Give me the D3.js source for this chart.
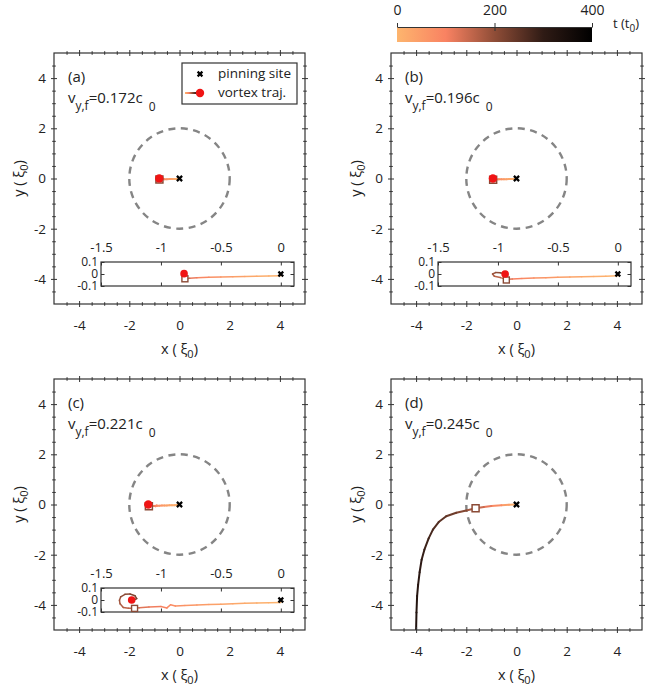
<!DOCTYPE html>
<html>
<head>
<meta charset="utf-8">
<script src="https://cdn.jsdelivr.net/npm/d3@7"></script>
<style>
body { margin: 0; background: #fff; }
text { font-family: "Open Sans", sans-serif; fill: #222; }
</style>
</head>
<body>
<script>
// ---- data ----
var panelNames = ["(a)", "(b)", "(c)", "(d)"];
var vyf = ["0.172", "0.196", "0.221", "0.245"];
var majorTicks = [-4, -2, 0, 2, 4];
var insetTicksX = [-1.5, -1, -0.5, 0];
var insetTicksY = [0.1, 0, -0.1];
var cbarTicks = [0, 200, 400];
var cmapStops = [0, 100, 200, 300, 400];
var cmapColors = ["#fdb56e", "#f98262", "#8f4d37", "#2f1b15", "#000000"];
var pinX = 0, pinY = 0, circleR = 2;

// trajectories (x, y in xi_0, t in t_0)
var trajAX = [0, -0.1, -0.2, -0.3, -0.4, -0.5, -0.6, -0.7, -0.76, -0.8, -0.805, -0.807];
var trajAY = [-0.015, -0.017, -0.019, -0.021, -0.023, -0.025, -0.028, -0.032, -0.036, -0.04, -0.02, 0.003];
var trajAT = [0, 10, 20, 32, 45, 60, 78, 100, 125, 160, 190, 210];

var trajBX = [0, -0.1, -0.2, -0.3, -0.4, -0.5, -0.6, -0.7, -0.8, -0.88, -0.93, -0.98, -1.03, -1.045, -1.02, -0.98, -0.94];
var trajBY = [-0.015, -0.018, -0.02, -0.022, -0.025, -0.028, -0.031, -0.034, -0.038, -0.042, -0.045, -0.03, -0.018, 0.0, 0.012, 0.01, 0.0];
var trajBT = [0, 8, 16, 25, 35, 46, 58, 72, 90, 110, 135, 150, 165, 180, 195, 205, 215];

var trajCX = [0, -0.1, -0.2, -0.3, -0.4, -0.5, -0.6, -0.7, -0.8, -0.88, -0.92, -0.95, -1.0, -1.1, -1.18, -1.22,
              -1.27, -1.314, -1.341, -1.346, -1.336, -1.30, -1.258, -1.216, -1.202, -1.225, -1.244];
var trajCY = [-0.02, -0.022, -0.025, -0.028, -0.031, -0.035, -0.038, -0.041, -0.045, -0.05, -0.04, -0.066, -0.055, -0.058, -0.064, -0.068,
              -0.068, -0.062, -0.032, -0.003, 0.026, 0.047, 0.05, 0.035, 0.012, 0.0, 0.0];
var trajCT = [0, 7, 14, 21, 28, 36, 44, 53, 63, 73, 80, 88, 100, 115, 130, 145,
              155, 165, 175, 185, 195, 205, 212, 218, 224, 230, 235];

var trajDX = [0, -0.3, -0.6, -1.0, -1.3, -1.63, -2.0, -2.4, -2.8, -3.1, -3.33, -3.5, -3.67, -3.78, -3.86, -3.92, -3.96, -3.985, -4.0];
var trajDY = [0, -0.01, -0.03, -0.06, -0.1, -0.15, -0.24, -0.33, -0.47, -0.7, -1.0, -1.35, -1.8, -2.2, -2.7, -3.2, -3.65, -4.3, -5.0];
var trajDT = [0, 30, 60, 100, 130, 160, 200, 225, 245, 260, 270, 280, 290, 298, 306, 314, 320, 326, 332];

var squareX = [-0.80, -0.93, -1.22, -1.63];
var squareY = [-0.04, -0.05, -0.07, -0.15];
var dotX = [-0.807, -0.94, -1.244];
var dotY = [0.003, 0.0, 0.0];

var trajX = [trajAX, trajBX, trajCX, trajDX];
var trajY = [trajAY, trajBY, trajCY, trajDY];
var trajT = [trajAT, trajBT, trajCT, trajDT];

// ---- layout ----
var size = 251;
var panelPos = [[54, 53], [391, 53], [54, 379], [391, 379]];
var axisColor = "#333";

var svg = d3.select("body").append("svg")
    .attr("width", 664)
    .attr("height", 692);

var cmap = d3.scaleLinear().domain(cmapStops).range(cmapColors).interpolate(d3.interpolateRgb);

var minorTicks = d3.range(-4.5, 4.6, 0.5).filter(function(d) { return majorTicks.indexOf(d) < 0; });

function pinMarker(g, cx, cy, s) {
    g.append("path")
        .attr("d", "M" + (cx - s) + "," + (cy - s) + "L" + (cx + s) + "," + (cy + s) +
                   "M" + (cx - s) + "," + (cy + s) + "L" + (cx + s) + "," + (cy - s))
        .attr("stroke", "#000")
        .attr("stroke-width", 2.2)
        .attr("fill", "none");
}

// ticks that cross the axis line
function crossAxis(g, axis, orient, values, len, pad, labels, tx, ty) {
    var a = g.append("g")
        .attr("transform", "translate(" + tx + "," + ty + ")")
        .call(axis.tickValues(values).tickSizeInner(len).tickSizeOuter(0).tickPadding(pad)
            .tickFormat(labels ? function(d) { return String(d); } : ""));
    a.select(".domain").remove();
    var attr = (orient === "bottom" || orient === "top") ? "y1" : "x1";
    var sign = (orient === "bottom" || orient === "right") ? -1 : 1;
    a.selectAll(".tick line").attr(attr, sign * len).attr("stroke", axisColor).attr("stroke-width", 1);
    a.selectAll("text").attr("font-size", 13.5).attr("font-family", "Open Sans, sans-serif").attr("fill", "#222");
    return a;
}

function drawTraj(g, xs, ys, k, width) {
    var xv = trajX[k], yv = trajY[k], tv = trajT[k];
    for (var i = 0; i < xv.length - 1; i++) {
        g.append("line")
            .attr("x1", xs(xv[i])).attr("y1", ys(yv[i]))
            .attr("x2", xs(xv[i + 1])).attr("y2", ys(yv[i + 1]))
            .attr("stroke", cmap((tv[i] + tv[i + 1]) / 2))
            .attr("stroke-width", width)
            .attr("stroke-linecap", "round");
    }
}

function drawPanel(k) {
    var left = panelPos[k][0], top = panelPos[k][1];
    var g = svg.append("g").attr("transform", "translate(" + left + "," + top + ")");
    var x = d3.scaleLinear().domain([-5, 5]).range([0, size]);
    var y = d3.scaleLinear().domain([-5, 5]).range([size, 0]);

    g.append("clipPath").attr("id", "clip" + k)
        .append("rect").attr("width", size).attr("height", size);
    var plot = g.append("g").attr("clip-path", "url(#clip" + k + ")");

    // axes
    crossAxis(g, d3.axisBottom(x), "bottom", minorTicks, 1.8, 0, false, 0, size);
    crossAxis(g, d3.axisBottom(x), "bottom", majorTicks, 3, 13, true, 0, size);
    crossAxis(g, d3.axisTop(x), "top", minorTicks, 1.8, 0, false, 0, 0);
    crossAxis(g, d3.axisTop(x), "top", majorTicks, 3, 0, false, 0, 0);
    crossAxis(g, d3.axisLeft(y), "left", minorTicks, 1.8, 0, false, 0, 0);
    crossAxis(g, d3.axisLeft(y), "left", majorTicks, 3, 5, true, 0, 0);
    crossAxis(g, d3.axisRight(y), "right", minorTicks, 1.8, 0, false, size, 0);
    crossAxis(g, d3.axisRight(y), "right", majorTicks, 3, 0, false, size, 0);
    g.append("rect").attr("width", size).attr("height", size)
        .attr("fill", "none").attr("stroke", axisColor).attr("stroke-width", 1.2);

    // axis titles
    var xt = g.append("text").attr("x", size / 2).attr("y", size + 50)
        .attr("text-anchor", "middle").attr("font-size", 14.5);
    xt.append("tspan").text("x ( \u03be");
    xt.append("tspan").attr("font-size", 11).attr("dy", 4).text("0");
    xt.append("tspan").attr("dy", -4).text(")");
    var yt = g.append("text").attr("transform", "translate(-30," + (size / 2) + ") rotate(-90)")
        .attr("text-anchor", "middle").attr("font-size", 14.5);
    yt.append("tspan").text("y ( \u03be");
    yt.append("tspan").attr("font-size", 11).attr("dy", 4).text("0");
    yt.append("tspan").attr("dy", -4).text(")");

    // panel label and velocity
    g.append("text").attr("x", 14).attr("y", 29).attr("font-size", 15).text(panelNames[k]);
    var vt = g.append("text").attr("x", 14).attr("y", 50).attr("font-size", 15);
    vt.append("tspan").text("v");
    vt.append("tspan").attr("font-size", 12).attr("dy", 7).text("y,f");
    vt.append("tspan").attr("dy", -7).text("=" + vyf[k] + "c");
    vt.append("tspan").attr("font-size", 12).attr("dy", 8).attr("dx", 6).text("0");

    // circle
    plot.append("circle").attr("cx", x(pinX)).attr("cy", y(pinY))
        .attr("r", x(circleR) - x(0))
        .attr("fill", "none").attr("stroke", "#858585")
        .attr("stroke-width", 2.4).attr("stroke-dasharray", "7,5.5");

    drawTraj(plot, x, y, k, 2);
    plot.append("rect")
        .attr("x", x(squareX[k]) - 3.5).attr("y", y(squareY[k]) - 3.5)
        .attr("width", 7).attr("height", 7)
        .attr("fill", "#fff").attr("stroke", "#8b4a36").attr("stroke-width", 1.5);
    if (k < 3) {
        plot.append("circle").attr("cx", x(dotX[k])).attr("cy", y(dotY[k])).attr("r", 4.2).attr("fill", "#f01414");
    }
    pinMarker(plot, x(pinX), y(pinY), 2.6);

    // inset
    if (k < 3) {
        var iw = 193, ih = 24;
        var ig = g.append("g").attr("transform", "translate(47,209)");
        var ix = d3.scaleLinear().domain([-1.5, 0.11]).range([0, iw]);
        var iy = d3.scaleLinear().domain([-0.1, 0.1]).range([ih, 0]);
        ig.append("rect").attr("width", iw).attr("height", ih).attr("fill", "#fff");
        var at = ig.append("g").call(d3.axisTop(ix).tickValues(insetTicksX).tickSizeInner(-3.5).tickSizeOuter(0)
            .tickPadding(10).tickFormat(function(d) { return String(d); }));
        var ab = ig.append("g").attr("transform", "translate(0," + ih + ")")
            .call(d3.axisBottom(ix).tickValues(insetTicksX).tickSizeInner(-3.5).tickSizeOuter(0).tickFormat(""));
        var al = ig.append("g").call(d3.axisLeft(iy).tickValues(insetTicksY).tickSizeInner(-3.5).tickSizeOuter(0)
            .tickPadding(3).tickFormat(function(d) { return String(d); }));
        var ar = ig.append("g").attr("transform", "translate(" + iw + ",0)")
            .call(d3.axisRight(iy).tickValues(insetTicksY).tickSizeInner(-3.5).tickSizeOuter(0).tickFormat(""));
        [at, ab, al, ar].forEach(function(a) {
            a.select(".domain").remove();
            a.selectAll(".tick line").attr("stroke", axisColor);
            a.selectAll("text").attr("font-size", 13).attr("font-family", "Open Sans, sans-serif").attr("fill", "#222");
        });
        al.selectAll("text").attr("font-size", 12);
        ig.append("rect").attr("width", iw).attr("height", ih)
            .attr("fill", "none").attr("stroke", axisColor).attr("stroke-width", 1.2);
        drawTraj(ig, ix, iy, k, 1.5);
        ig.append("rect")
            .attr("x", ix(squareX[k]) - 3).attr("y", iy(squareY[k]) - 3)
            .attr("width", 6).attr("height", 6)
            .attr("fill", "#fff").attr("stroke", "#8b4a36").attr("stroke-width", 1.4);
        ig.append("circle").attr("cx", ix(dotX[k])).attr("cy", iy(dotY[k])).attr("r", 3.8).attr("fill", "#f01414");
        pinMarker(ig, ix(pinX), iy(pinY), 2.4);
    }

    // legend
    if (k === 0) {
        var lg = g.append("g").attr("transform", "translate(128,10)");
        lg.append("rect").attr("width", 115).attr("height", 41)
            .attr("fill", "#fff").attr("stroke", axisColor).attr("stroke-width", 1.2);
        pinMarker(lg, 18, 11, 2.4);
        lg.append("text").attr("x", 36).attr("y", 15).attr("font-size", 13.5).text("pinning site");
        var defs = svg.append("defs");
        var lgrad = defs.append("linearGradient").attr("id", "legGrad");
        lgrad.selectAll("stop").data(cmapStops).enter().append("stop")
            .attr("offset", function(d) { return d / 400; })
            .attr("stop-color", function(d, i) { return cmapColors[i]; });
        lg.append("rect").attr("x", 3).attr("y", 29).attr("width", 15).attr("height", 2)
            .attr("fill", "url(#legGrad)");
        lg.append("circle").attr("cx", 18).attr("cy", 30).attr("r", 4.2).attr("fill", "#f01414");
        lg.append("text").attr("x", 36).attr("y", 34).attr("font-size", 13.5).text("vortex traj.");
    }
}

for (var k = 0; k < 4; k++) drawPanel(k);

// ---- colorbar ----
var cx = d3.scaleLinear().domain([0, 400]).range([397, 592]);
var grad = svg.append("defs").append("linearGradient").attr("id", "cbGrad");
grad.selectAll("stop").data(cmapStops).enter().append("stop")
    .attr("offset", function(d) { return d / 400; })
    .attr("stop-color", function(d, i) { return cmapColors[i]; });
svg.append("rect").attr("x", cx(0)).attr("y", 27).attr("width", cx(400) - cx(0)).attr("height", 15)
    .attr("fill", "url(#cbGrad)");
var cb = svg.append("g").attr("transform", "translate(0,27)")
    .call(d3.axisTop(cx).tickValues(cbarTicks).tickSizeInner(4).tickSizeOuter(0).tickPadding(8)
        .tickFormat(function(d) { return String(d); }));
cb.select(".domain").attr("stroke", axisColor).attr("stroke-width", 1.2);
cb.selectAll(".tick line").attr("stroke", axisColor).attr("y1", function(d) { return d === 200 ? 4 : 0; });
cb.selectAll("text").attr("font-size", 14).attr("font-family", "Open Sans, sans-serif").attr("fill", "#222");
var tt = svg.append("text").attr("x", 613).attr("y", 28).attr("font-size", 13);
tt.append("tspan").text("t (t");
tt.append("tspan").attr("font-size", 10).attr("dy", 4).text("0");
tt.append("tspan").attr("dy", -4).text(")");
</script>
</body>
</html>
